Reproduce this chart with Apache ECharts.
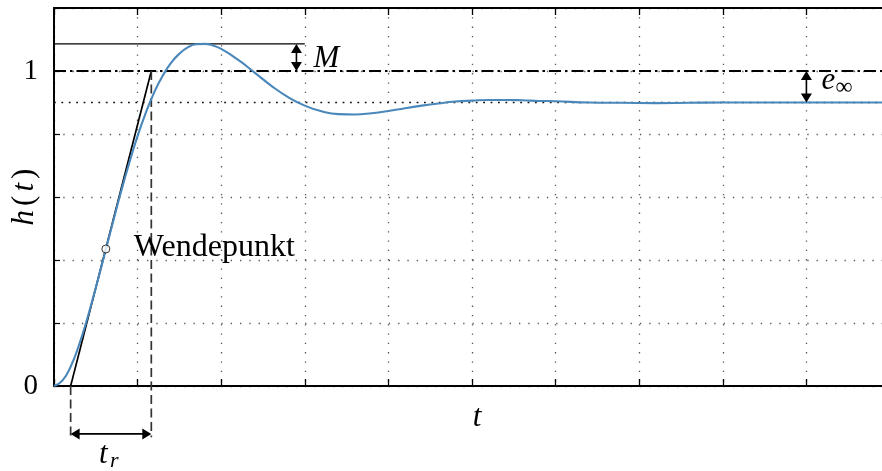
<!DOCTYPE html>
<html><head><meta charset="utf-8">
<script src="https://cdn.jsdelivr.net/npm/echarts@6/dist/echarts.min.js"></script>
<style>html,body{margin:0;padding:0;background:#fff}#c{width:882px;height:471px}</style>
</head><body><div id="c"></div>
<script>
// ---- data ----
const tValues = [0,0.1,0.2,0.3,0.4,0.5,0.6,0.7,0.8,0.9,1.0,1.1,1.2,1.3,1.4,1.5,1.6,1.7,1.8,1.9,2.0,
  2.2,2.4,2.6,2.8,3.0,3.2,3.4,3.6,3.8,4.0,4.2,4.4,4.6,4.8,5.0,5.2,5.4,5.6,5.8,6.0,6.4,6.8,7.2,7.6,8.0,9.0,10.0];
const hValues = [0,0.017,0.062,0.131,0.216,0.312,0.413,0.515,0.615,0.708,0.794,0.869,0.933,0.985,1.026,1.055,1.075,1.085,1.086,1.081,1.070,
  1.036,0.995,0.953,0.917,0.890,0.872,0.863,0.862,0.866,0.873,0.882,0.890,0.897,0.903,0.906,0.908,0.908,0.907,0.905,0.904,0.900,0.899,0.898,0.899,0.900,0.900,0.900];
const yTickLabels = { '0': '0', '1': '1' };
const xRange = [0, 10];
const yRange = [0, 1.2];
const setpoint = 1.0;
const finalValue = 0.9;
const peakValue = 1.086;
const peakLineEnd = 3.0;
const overshootArrowT = 2.9;
const errorArrowT = 9.0;
const riseStart = 0.199;
const riseEnd = 1.164;
const riseArrowH = -0.152;
const riseDropH = -0.163;
const inflection = [0.62, 0.435];

// ---- chart ----
const FONT = 'Liberation Serif';
const chart = echarts.init(document.getElementById('c'), null, { renderer: 'canvas' });

function lineSeries(data, style, z, clip) {
  return { type: 'line', data: data, showSymbol: false, symbol: 'none', silent: true, animation: false,
    clip: clip !== false, z: z, lineStyle: style };
}

function arrowItem(params, api) {
  const a = api.coord([api.value(0), api.value(1)]);
  const b = api.coord([api.value(2), api.value(3)]);
  const dx = b[0] - a[0], dy = b[1] - a[1], len = Math.hypot(dx, dy);
  const ux = dx / len, uy = dy / len, px = -uy, py = ux;
  const L = 9, W = 5.5;
  const head = (tip, s) => ({ type: 'polygon', shape: { points: [
    [tip[0], tip[1]],
    [tip[0] + s * ux * L + px * W, tip[1] + s * uy * L + py * W],
    [tip[0] + s * ux * L - px * W, tip[1] + s * uy * L - py * W]] },
    style: { fill: '#000' } });
  return { type: 'group', children: [
    { type: 'line', shape: { x1: a[0] + ux * 4, y1: a[1] + uy * 4, x2: b[0] - ux * 4, y2: b[1] - uy * 4 },
      style: { stroke: '#000', lineWidth: 1.6 } },
    head(a, 1), head(b, -1)] };
}

function textSeries(anchor, pieces) {
  return { type: 'custom', coordinateSystem: 'cartesian2d', data: [anchor], silent: true, z: 20, animation: false,
    encode: { x: 0, y: 1 },
    renderItem: function (params, api) {
      const p = api.coord([api.value(0), api.value(1)]);
      return { type: 'group', children: pieces.map(pc => ({
        type: 'text', x: p[0] + pc.dx, y: p[1] + pc.dy - 0.3 * pc.size,
        style: { text: pc.text, fontFamily: FONT, fontSize: pc.size, fontStyle: pc.italic ? 'italic' : 'normal',
          fill: '#000', align: 'left', verticalAlign: 'middle' } })) };
    } };
}

const gridDots = { color: '#555', width: 1.3, type: [1.3, 8] };

const option = {
  animation: false,
  backgroundColor: '#fff',
  grid: { left: 54, right: -8, top: 8, bottom: 85, containLabel: false, outerBoundsMode: 'none' },
  xAxis: [{
    type: 'value', min: xRange[0], max: xRange[1], interval: 1, position: 'bottom',
    axisLine: { show: true, onZero: false, lineStyle: { color: '#000', width: 2 } },
    axisTick: { show: true, inside: true, length: 7, lineStyle: { color: '#000', width: 1.3 } },
    axisLabel: { show: false },
    splitLine: { show: true, lineStyle: gridDots },
    name: '{i|t}', nameLocation: 'middle', nameGap: 16, nameMoveOverlap: false,
    nameTextStyle: { padding: [0, 0, 0, 10], rich: { i: { fontFamily: FONT, fontSize: 31, fontStyle: 'italic', color: '#000' } } }
  }, {
    type: 'value', min: xRange[0], max: xRange[1], interval: 1, position: 'top',
    axisLine: { show: true, onZero: false, lineStyle: { color: '#000', width: 2 } },
    axisTick: { show: true, inside: true, length: 7, lineStyle: { color: '#000', width: 1.3 } },
    axisLabel: { show: false }, splitLine: { show: false }
  }],
  yAxis: {
    type: 'value', min: yRange[0], max: yRange[1], interval: 0.2,
    axisLine: { show: true, onZero: false, lineStyle: { color: '#000', width: 2 } },
    axisTick: { show: true, inside: true, length: 6, lineStyle: { color: '#000', width: 1.2 } },
    axisLabel: { show: true, margin: 16, fontFamily: FONT, fontSize: 29, color: '#000',
      formatter: v => { const k = String(Math.round(v * 1000) / 1000); return yTickLabels[k] !== undefined ? yTickLabels[k] : ''; } },
    splitLine: { show: true, lineStyle: gridDots },
    name: '{i|h}{n|(}{i|t}{n|)}', nameLocation: 'middle', nameGap: 14, nameMoveOverlap: false,
    nameTextStyle: { rich: {
      i: { fontFamily: FONT, fontSize: 31, fontStyle: 'italic', color: '#000', padding: [0, 2] },
      n: { fontFamily: FONT, fontSize: 31, color: '#000', padding: [0, 2] } } }
  },
  series: [
    // setpoint (dash-dot)
    lineSeries([[xRange[0], setpoint], [xRange[1], setpoint]], { color: '#000', width: 2.2, type: [12, 4, 2.5, 4] }, 3),
    // final value (dotted)
    lineSeries([[xRange[0], finalValue], [xRange[1], finalValue]], { color: '#111', width: 1.7, type: [1.8, 5.6] }, 3),
    // peak line
    lineSeries([[xRange[0], peakValue], [peakLineEnd, peakValue]], { color: '#000', width: 1.4 }, 3),
    // tangent at inflection point
    lineSeries([[riseStart, 0], [riseEnd, setpoint]], { color: '#000', width: 1.7 }, 4),
    // rise-time drop lines
    lineSeries([[riseStart, 0], [riseStart, riseDropH]], { color: '#333', width: 1.7, type: [9, 4.5] }, 4, false),
    lineSeries([[riseEnd, setpoint], [riseEnd, riseDropH]], { color: '#333', width: 1.7, type: [9, 4.5] }, 4, false),
    // step response
    { type: 'line', data: tValues.map((t, i) => [t, hValues[i]]), smooth: true, showSymbol: false, symbol: 'none',
      silent: true, animation: false, z: 6, lineStyle: { color: '#4a87ba', width: 2.1 } },
    // inflection point
    { type: 'scatter', data: [inflection], symbol: 'circle', symbolSize: 8, silent: true, animation: false, z: 8,
      itemStyle: { color: '#fff', borderColor: '#000', borderWidth: 1 } },
    // arrows
    { type: 'custom', coordinateSystem: 'cartesian2d', silent: true, animation: false, z: 9, clip: false,
      encode: { x: [0, 2], y: [1, 3] },
      data: [[overshootArrowT, peakValue, overshootArrowT, setpoint],
             [errorArrowT, setpoint, errorArrowT, finalValue],
             [riseStart, riseArrowH, riseEnd, riseArrowH]],
      renderItem: arrowItem },
    // annotations
    textSeries(inflection, [{ text: 'Wendepunkt', dx: 28, dy: 8, size: 32, italic: false }]),
    textSeries([overshootArrowT, (peakValue + setpoint) / 2], [{ text: 'M', dx: 17, dy: 10.5, size: 31, italic: true }]),
    textSeries([errorArrowT, (setpoint + finalValue) / 2], [
      { text: 'e', dx: 15, dy: 3.5, size: 31, italic: true },
      { text: '\u221E', dx: 29, dy: 8.5, size: 24, italic: false }]),
    textSeries([(riseStart + riseEnd) / 2, riseArrowH], [
      { text: 't', dx: -12, dy: 30.5, size: 31, italic: true },
      { text: 'r', dx: -1, dy: 34, size: 22, italic: true }])
  ]
};
chart.setOption(option);
</script>
</body></html>
